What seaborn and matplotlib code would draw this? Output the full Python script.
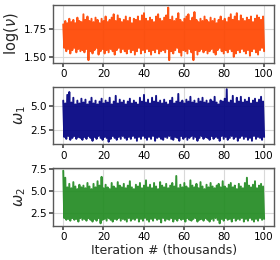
import numpy as np
import matplotlib
matplotlib.use("Agg")
import matplotlib.pyplot as plt
import seaborn as sns

# upper / lower excursions of each trace, one value per thousand iterations
log_nu_hi = [1.79, 1.82, 1.80, 1.84, 1.81, 1.83, 1.80, 1.85, 1.82, 1.81,
             1.88, 1.83, 1.86, 1.82, 1.84, 1.81, 1.85, 1.83, 1.80, 1.84,
             1.82, 1.86, 1.81, 1.83, 1.85, 1.88, 1.82, 1.87, 1.84, 1.81,
             1.83, 1.86, 1.82, 1.85, 1.80, 1.84, 1.83, 1.86, 1.82, 1.87,
             1.89, 1.84, 1.82, 1.85, 1.83, 1.81, 1.86, 1.88, 1.84, 1.82,
             1.85, 1.87, 1.94, 1.83, 1.86, 1.82, 1.84, 1.89, 1.83, 1.81,
             1.84, 1.86, 1.88, 1.82, 1.85, 1.90, 1.83, 1.81, 1.84, 1.82,
             1.86, 1.83, 1.81, 1.85, 1.82, 1.84, 1.80, 1.83, 1.86, 1.82,
             1.84, 1.81, 1.85, 1.88, 1.83, 1.86, 1.89, 1.82, 1.87, 1.84,
             1.82, 1.85, 1.83, 1.86, 1.81, 1.84, 1.87, 1.85, 1.83, 1.86]
log_nu_lo = [1.58, 1.55, 1.57, 1.53, 1.56, 1.58, 1.54, 1.57, 1.55, 1.56,
             1.54, 1.57, 1.47, 1.55, 1.53, 1.56, 1.58, 1.52, 1.55, 1.57,
             1.53, 1.56, 1.54, 1.57, 1.55, 1.52, 1.56, 1.58, 1.54, 1.57,
             1.55, 1.53, 1.57, 1.54, 1.56, 1.52, 1.55, 1.58, 1.53, 1.56,
             1.54, 1.57, 1.55, 1.52, 1.56, 1.54, 1.57, 1.53, 1.55, 1.56,
             1.54, 1.57, 1.47, 1.55, 1.53, 1.56, 1.58, 1.54, 1.51, 1.56,
             1.55, 1.53, 1.57, 1.54, 1.47, 1.56, 1.52, 1.55, 1.57, 1.54,
             1.56, 1.53, 1.55, 1.57, 1.54, 1.52, 1.56, 1.58, 1.55, 1.53,
             1.56, 1.54, 1.57, 1.55, 1.50, 1.53, 1.56, 1.54, 1.57, 1.55,
             1.53, 1.56, 1.51, 1.55, 1.57, 1.54, 1.52, 1.56, 1.58, 1.55]

omega1_hi = [5.6, 5.3, 6.2, 6.5, 5.4, 5.9, 5.2, 5.6, 5.3, 5.8,
             5.4, 5.7, 5.2, 5.5, 5.9, 5.3, 5.6, 5.2, 5.5, 5.8,
             5.3, 5.6, 5.4, 5.9, 5.2, 5.5, 6.1, 5.3, 5.7, 5.4,
             5.6, 5.2, 5.5, 5.8, 5.3, 5.6, 5.4, 5.2, 5.9, 5.5,
             6.2, 5.4, 5.7, 5.3, 5.9, 5.5, 6.1, 5.4, 5.6, 5.3,
             5.7, 5.4, 5.2, 5.6, 5.9, 5.3, 5.5, 6.3, 5.4, 5.6,
             5.3, 5.7, 5.5, 6.0, 5.4, 5.6, 5.3, 5.8, 5.5, 5.9,
             5.4, 5.6, 5.3, 5.7, 5.5, 6.0, 5.4, 5.2, 5.6, 5.5,
             5.8, 6.8, 5.4, 5.6, 6.1, 5.3, 5.9, 5.5, 6.0, 5.4,
             5.7, 5.5, 5.9, 5.3, 5.6, 5.8, 5.4, 5.7, 6.0, 5.5]
omega1_lo = [1.8, 1.6, 1.9, 1.5, 1.7, 1.9, 1.6, 1.8, 1.7, 1.5,
             1.8, 1.6, 1.9, 1.7, 1.4, 1.8, 1.6, 1.9, 1.7, 1.5,
             1.8, 1.7, 1.3, 1.6, 1.9, 1.7, 1.5, 1.8, 1.6, 1.9,
             1.7, 1.5, 1.8, 1.6, 1.9, 1.7, 1.4, 1.8, 1.6, 1.9,
             1.7, 1.5, 1.8, 1.6, 1.9, 1.4, 1.7, 1.8, 1.6, 1.5,
             1.8, 1.7, 1.9, 1.6, 1.5, 1.8, 1.7, 1.4, 1.9, 1.6,
             1.8, 1.5, 1.7, 1.9, 1.6, 1.8, 1.4, 1.7, 1.9, 1.6,
             1.8, 1.7, 1.5, 1.9, 1.6, 1.8, 1.7, 1.4, 1.9, 1.6,
             1.8, 1.5, 1.7, 1.9, 1.6, 1.8, 1.4, 1.7, 1.9, 1.6,
             1.8, 1.5, 1.7, 1.4, 1.9, 1.6, 1.8, 1.7, 1.5, 1.8]

omega2_hi = [7.3, 6.5, 5.4, 5.8, 5.3, 6.0, 5.5, 5.2, 5.7, 5.4,
             5.6, 5.3, 5.9, 5.5, 5.2, 5.8, 5.4, 6.1, 5.6, 6.6,
             5.3, 5.7, 5.4, 5.2, 5.9, 5.5, 5.3, 6.0, 5.6, 5.4,
             5.8, 5.3, 5.6, 6.1, 5.4, 5.2, 5.7, 5.5, 5.9, 5.3,
             5.6, 6.2, 5.4, 5.7, 5.3, 5.9, 5.5, 5.2, 6.0, 5.6,
             5.4, 5.8, 5.3, 5.6, 5.9, 5.5, 6.7, 5.3, 5.7, 5.4,
             5.9, 5.5, 5.3, 6.2, 5.6, 5.4, 5.8, 5.3, 6.0, 5.5,
             5.2, 5.7, 5.4, 5.9, 5.5, 5.3, 5.6, 5.8, 5.4, 6.1,
             5.5, 5.3, 5.7, 5.9, 5.4, 5.6, 5.2, 5.8, 5.5, 5.3,
             5.9, 6.5, 5.6, 5.4, 5.7, 6.1, 5.3, 5.6, 5.8, 5.5]
omega2_lo = [1.9, 1.7, 1.8, 1.6, 1.9, 1.7, 1.8, 1.5, 1.9, 1.7,
             1.8, 1.6, 1.9, 1.7, 1.5, 1.8, 1.6, 1.9, 1.3, 1.7,
             1.8, 1.6, 1.9, 1.7, 1.5, 1.8, 1.7, 1.9, 1.6, 1.8,
             1.7, 1.5, 1.9, 1.6, 1.8, 1.7, 1.9, 1.5, 1.8, 1.6,
             1.9, 1.7, 1.5, 1.8, 1.6, 1.9, 1.7, 1.8, 1.4, 1.9,
             1.6, 1.8, 1.7, 1.9, 1.5, 1.8, 1.6, 1.9, 1.7, 1.8,
             1.5, 1.9, 1.7, 1.6, 1.8, 1.9, 1.5, 1.7, 1.8, 1.6,
             1.9, 1.7, 1.5, 1.8, 1.6, 1.9, 1.7, 1.3, 1.8, 1.6,
             1.9, 1.7, 1.8, 1.5, 1.9, 1.6, 1.8, 1.7, 1.9, 1.5,
             1.8, 1.6, 1.9, 1.7, 1.5, 1.8, 1.6, 1.9, 1.7, 1.8]

labels = [r"$\log(\nu)$", r"$\omega_1$", r"$\omega_2$"]
colors = ["orangered", "navy", "forestgreen"]
yticks = [[1.50, 1.75], [2.5, 5.0], [2.5, 5.0, 7.5]]
xticks = [0, 20, 40, 60, 80, 100]

sns.set_theme(style="whitegrid", rc={
    "axes.edgecolor": "0.35",
    "axes.linewidth": 1.0,
    "grid.color": "0.85",
    "grid.linewidth": 0.8,
    "xtick.bottom": True,
    "ytick.left": True,
    "xtick.major.size": 3,
    "ytick.major.size": 3,
    "xtick.color": "0.3",
    "ytick.color": "0.3",
    "xtick.labelcolor": "black",
    "ytick.labelcolor": "black",
})
plt.rcParams["font.family"] = ["DejaVu Sans"]


def trace(hi, lo):
    # alternate between the upper and lower excursions
    y = np.empty(2 * len(hi))
    y[0::2] = hi
    y[1::2] = lo
    x = np.linspace(0, 100, len(y))
    return x, y


fig, axes = plt.subplots(3, 1, figsize=(2.8, 2.6), dpi=100)
series = [(log_nu_hi, log_nu_lo), (omega1_hi, omega1_lo), (omega2_hi, omega2_lo)]
for ax, (hi, lo), lab, col, yt in zip(axes, series, labels, colors, yticks):
    x, y = trace(hi, lo)
    sns.lineplot(x=x, y=y, ax=ax, color=col, lw=1.4, alpha=0.92)
    ax.set_xticks(xticks)
    ax.set_yticks(yt)
    ax.set_ylabel(lab, fontsize=10.5, labelpad=2)
    ax.tick_params(labelsize=7.5, pad=1.5)
    ax.margins(x=0.05, y=0.05)

axes[-1].set_xlabel("Iteration # (thousands)", fontsize=9, labelpad=1)
plt.subplots_adjust(left=0.19, right=0.979, top=0.981, bottom=0.131, hspace=0.41)
plt.savefig("out.png", dpi=100)
